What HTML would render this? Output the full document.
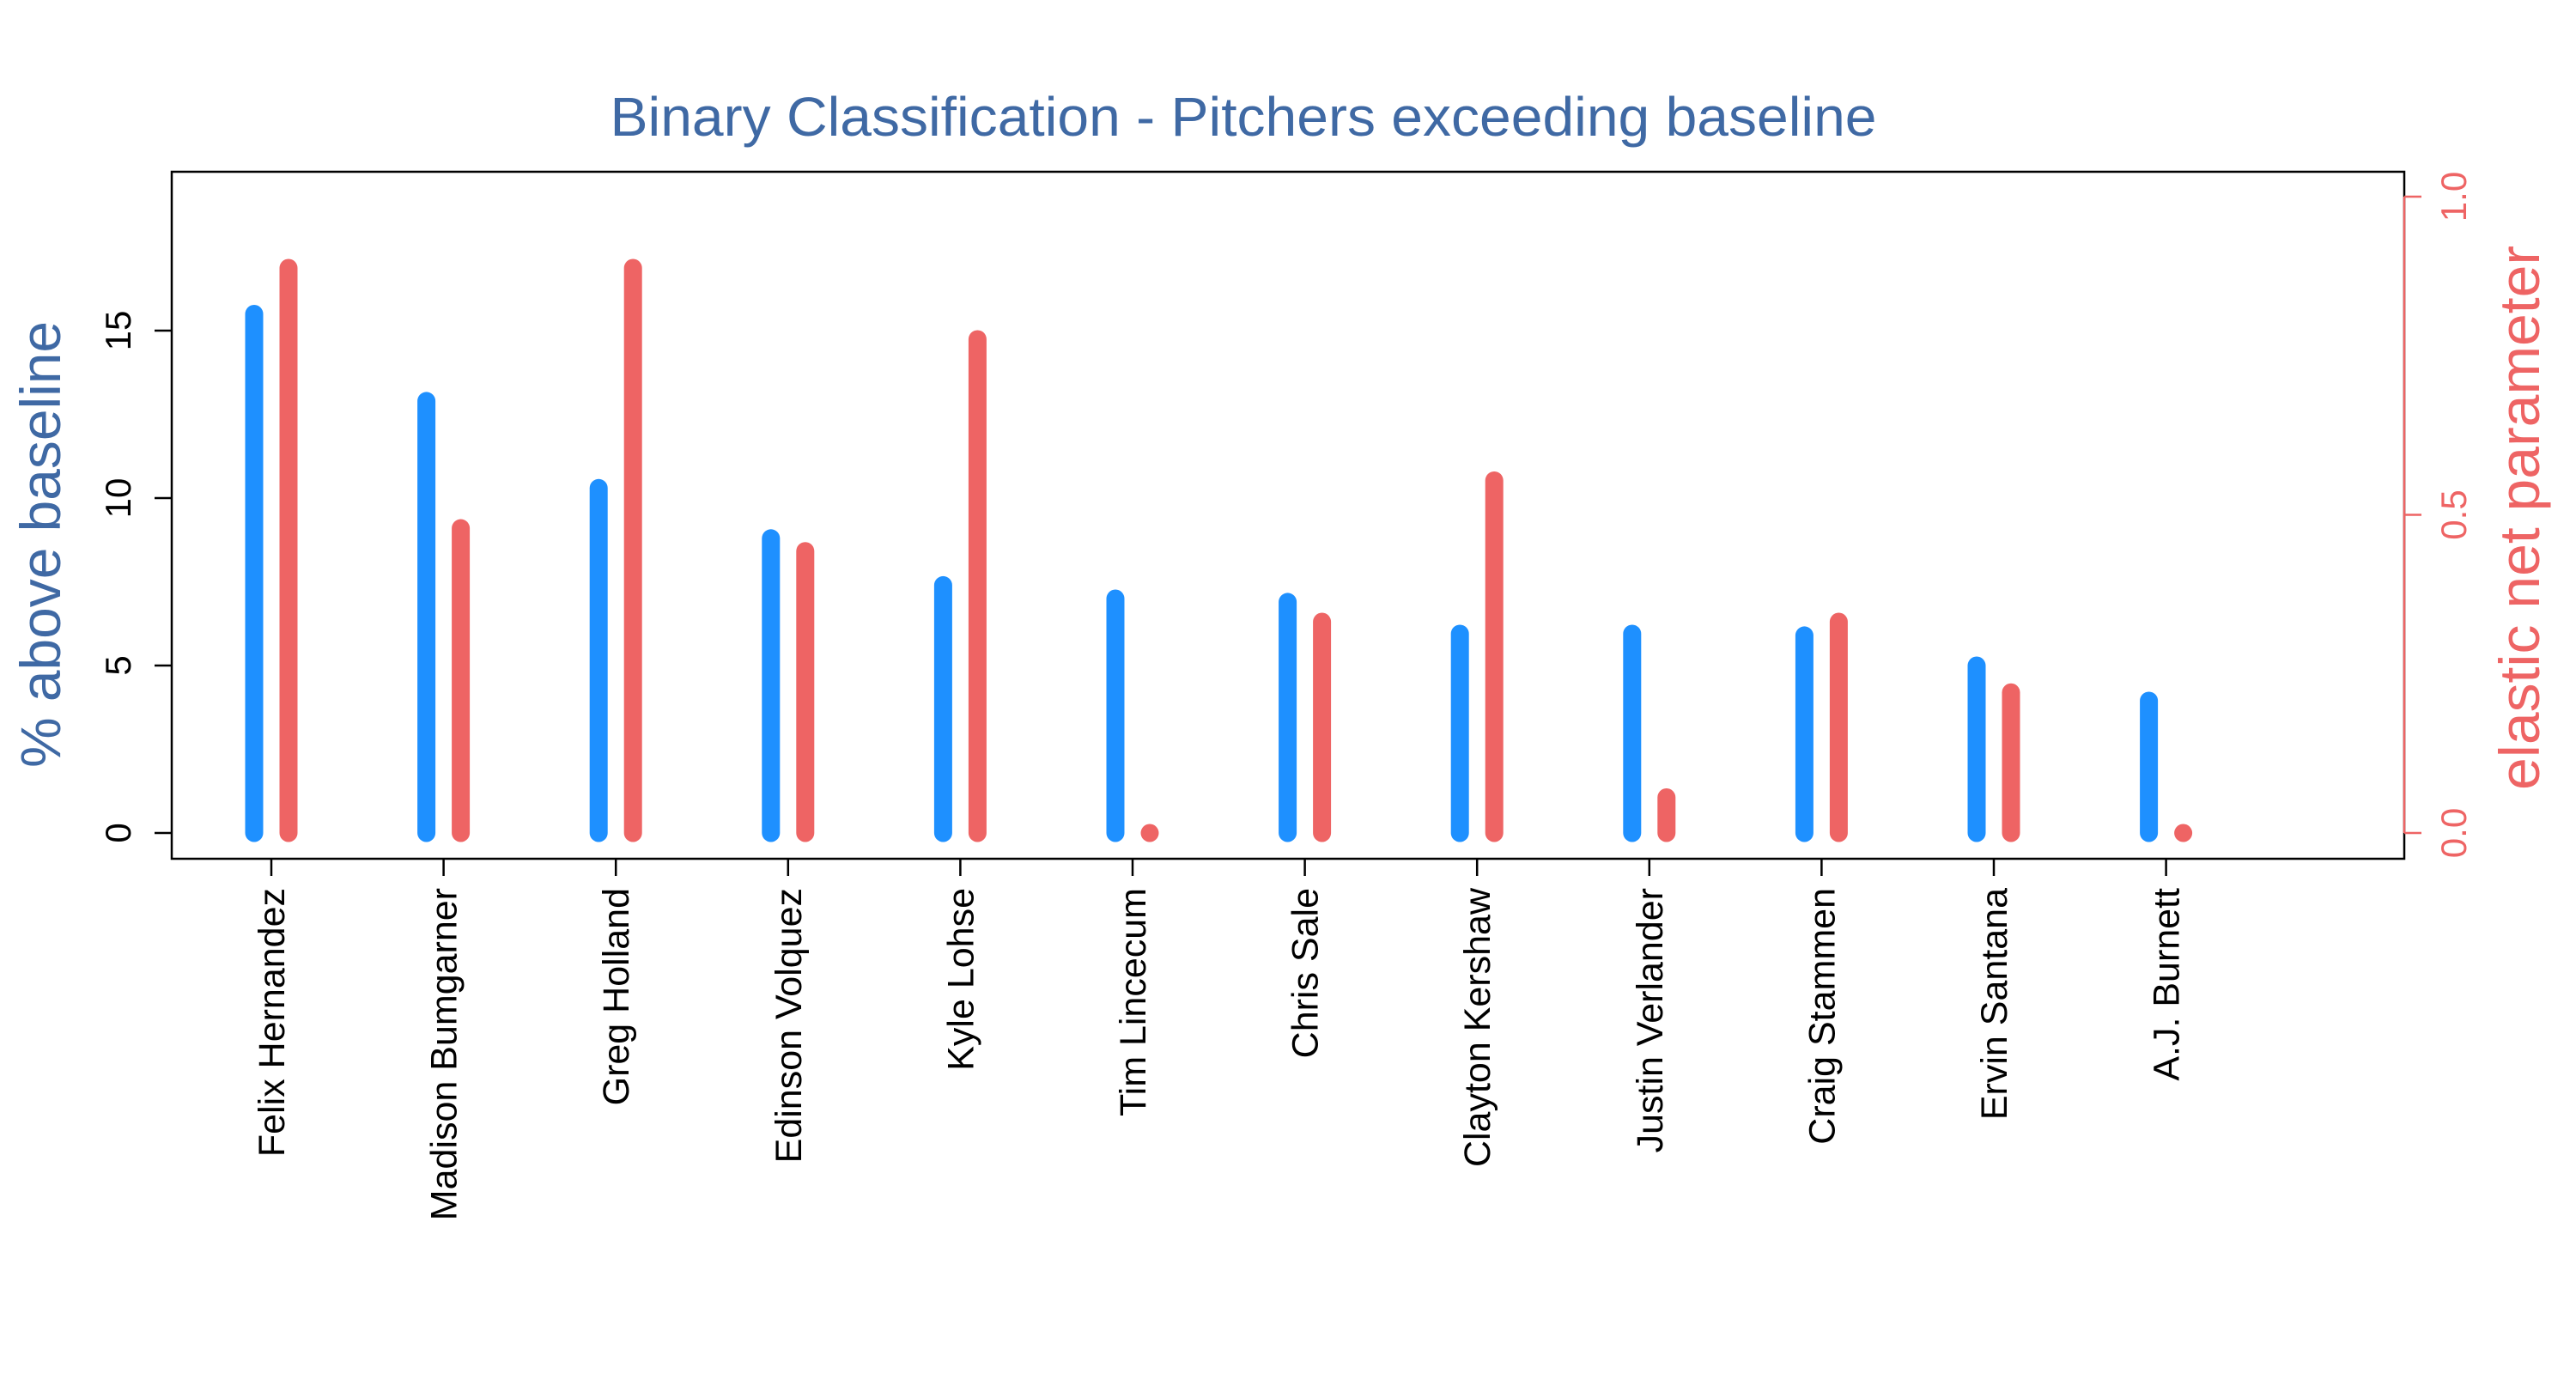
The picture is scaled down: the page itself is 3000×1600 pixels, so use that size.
<!DOCTYPE html>
<html><head><meta charset="utf-8"><style>
html,body{margin:0;padding:0;background:#fff;}
svg{display:block;}
text{font-family:"Liberation Sans",sans-serif;}
</style></head><body>
<svg id="chart" width="3000" height="1600" viewBox="0 0 3000 1600" xmlns="http://www.w3.org/2000/svg">
<rect x="0" y="0" width="3000" height="1600" fill="#fff"/>
<text x="1448" y="158" text-anchor="middle" font-size="64" fill="#3f69a4" textLength="1475" lengthAdjust="spacingAndGlyphs">Binary Classification - Pitchers exceeding baseline</text>
<rect x="200" y="200" width="2600" height="800" fill="none" stroke="#000" stroke-width="2.5"/>
<g id="bars"></g>
<g id="axes"></g>
<text transform="translate(70,634) rotate(-90)" text-anchor="middle" font-size="66" fill="#3f69a4" textLength="520" lengthAdjust="spacingAndGlyphs">% above baseline</text>
<text transform="translate(2957,603) rotate(-90)" text-anchor="middle" font-size="66" fill="#ee6464" textLength="634" lengthAdjust="spacingAndGlyphs">elastic net parameter</text>
</svg>
<script>
const categories = ["Felix Hernandez","Madison Bumgarner","Greg Holland","Edinson Volquez","Kyle Lohse","Tim Lincecum","Chris Sale","Clayton Kershaw","Justin Verlander","Craig Stammen","Ervin Santana","A.J. Burnett"];
const pctAboveBaseline = [15.5,12.9,10.3,8.8,7.4,7.0,6.9,5.95,5.95,5.9,5.0,3.95];
const elasticNetParam = [0.888,0.479,0.888,0.443,0.776,0.0,0.332,0.554,0.056,0.332,0.221,0.0];
const leftTicks = [0,5,10,15];
const leftTickLabels = ["0","5","10","15"];
const rightTicks = [0,0.5,1.0];
const rightTickLabels = ["0.0","0.5","1.0"];

const NS = "http://www.w3.org/2000/svg";
function yL(v){ return 970 - v*39; }
function yR(v){ return 970 - v*741; }
function xC(i){ return 316 + i*200.6; }
function mk(tag, attrs, parent){ const e=document.createElementNS(NS,tag); for(const k in attrs) e.setAttribute(k,attrs[k]); parent.appendChild(e); return e; }
const bars=document.getElementById('bars'), axes=document.getElementById('axes');

categories.forEach((c,i)=>{
  const b = mk('line',{x1:xC(i)-20,x2:xC(i)-20,y1:yL(0),y2:yL(pctAboveBaseline[i]),stroke:'#1e90ff','stroke-width':21,'stroke-linecap':'round'},bars);
  
  
  const r = mk('line',{x1:xC(i)+20,x2:xC(i)+20,y1:yR(0),y2:yR(elasticNetParam[i]),stroke:'#ee6464','stroke-width':21,'stroke-linecap':'round'},bars);
  
  
  const t = mk('line',{x1:xC(i),x2:xC(i),y1:1000,y2:1020,stroke:'#000','stroke-width':2.5},axes);
  
  
  const l = mk('text',{transform:`translate(${xC(i)+15},1034) rotate(-90)`,'text-anchor':'end','font-size':43,fill:'#000'},axes);
  l.textContent=c;
  
  
});
leftTicks.forEach((v,i)=>{
  const t = mk('line',{x1:180,x2:200,y1:yL(v),y2:yL(v),stroke:'#000','stroke-width':2.5},axes);
  
  
  const l = mk('text',{transform:`translate(152,${yL(v)}) rotate(-90)`,'text-anchor':'middle','font-size':42,fill:'#000'},axes);
  l.textContent=leftTickLabels[i];
  
  
});
const ax = mk('line',{x1:2800,x2:2800,y1:yR(0),y2:yR(1),stroke:'#ee6464','stroke-width':2.5},axes);


rightTicks.forEach((v,i)=>{
  const t = mk('line',{x1:2800,x2:2820,y1:yR(v),y2:yR(v),stroke:'#ee6464','stroke-width':2.5},axes);
  
  
  const l = mk('text',{transform:`translate(2872,${yR(v)}) rotate(-90)`,'text-anchor':'middle','font-size':42,fill:'#ee6464'},axes);
  l.textContent=rightTickLabels[i];
  
  
});
</script>
</body></html>
